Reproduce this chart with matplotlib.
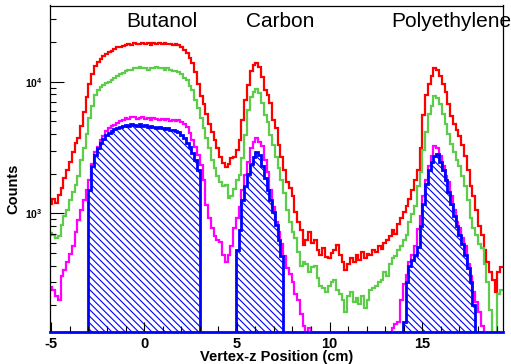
import numpy as np
import matplotlib
matplotlib.use('Agg')
import matplotlib.pyplot as plt
from matplotlib.ticker import FixedLocator, MultipleLocator, LogLocator, NullFormatter

plt.rcParams['font.family'] = ['Liberation Sans', 'DejaVu Sans']
plt.rcParams['mathtext.fontset'] = 'custom'
plt.rcParams['mathtext.rm'] = 'Liberation Sans'
plt.rcParams['mathtext.bf'] = 'Liberation Sans:bold'
plt.rcParams['hatch.linewidth'] = 0.8

# Histogram binning
bin_lo = -5.1
bin_width = 0.15
n_bins = 163

red = [1180, 1290, 1200, 1380, 1560, 1860, 2140, 2450, 2930, 3420,
       3750, 4600, 5900, 7650, 9600, 11450, 13100, 14100, 14900, 15700,
       16300, 16900, 17200, 17800, 18200, 18500, 18800, 19000, 19400, 19100,
       19700, 19500, 19300, 19700, 19300, 19700, 19100, 19600, 19400, 19800,
       19400, 19600, 19200, 19300, 19000, 19200, 18900, 18500, 17400, 16400,
       15200, 13900, 11900, 9600, 7800, 6800, 5700, 4800, 4150, 3600,
       3150, 2680, 2420, 2250, 2380, 2650, 2680, 3030, 3610, 5120,
       7260, 9450, 12000, 13400, 13900, 13000, 10900, 8650, 7930, 6900,
       5120, 4450, 3300, 2680, 2140, 1720, 1560, 1360, 1020, 860,
       750, 580, 630, 720, 600, 630, 530, 480, 550, 470,
       460, 500, 530, 580, 485, 430, 370, 410, 460, 430,
       480, 443, 510, 460, 490, 485, 530, 510, 565, 540,
       600, 630, 675, 750, 700, 830, 920, 1020, 1140, 1290,
       1510, 1790, 2140, 3150, 5600, 7900, 9600, 11000, 12700, 12300,
       11000, 9600, 8300, 6800, 5500, 4800, 4300, 3900, 3300, 2730,
       2140, 1620, 1360, 1060, 800, 680, 530, 430, 360, 310,
       255, 360, 390]

green = [715, 690, 650, 670, 810, 950, 1060, 1265, 1450, 1640,
         1920, 2540, 3150, 4000, 5300, 6550, 7950, 8650, 9100, 9450,
         9800, 10000, 10300, 10700, 11000, 11450, 11700, 12100, 12300, 12300,
         12800, 12600, 13000, 12800, 12800, 12300, 12800, 12600, 13000, 12600,
         12800, 12300, 12600, 12300, 12100, 12100, 11900, 11450, 10700, 10300,
         9300, 8650, 7260, 6350, 5300, 4450, 3750, 3150, 2540, 2220,
         1920, 1720, 1610, 1640, 1310, 1360, 1540, 1790, 1960, 2620,
         3940, 6100, 7650, 8350, 8800, 8200, 6900, 5590, 4950, 3940,
         3310, 2680, 2220, 1790, 1420, 1060, 860, 720, 650, 510,
         400, 430, 410, 360, 390, 400, 325, 280, 270, 255,
         280, 300, 312, 262, 245, 220, 178, 236, 255, 212,
         228, 206, 236, 192, 220, 262, 270, 280, 300, 312,
         360, 336, 410, 460, 475, 528, 570, 628, 680, 860,
         990, 1140, 1610, 2060, 3030, 4150, 5700, 6550, 7800, 7550,
         6800, 5700, 4800, 4000, 3370, 2930, 2540, 2280, 1920, 1610,
         1265, 920, 780, 680, 590, 550, 410, 300, 185, 115,
         115, 245, 262]

magenta = [275, 262, 236, 220, 336, 372, 430, 490, 570, 720,
           892, 1060, 1265, 1510, 1790, 2370, 2930, 3200, 3610, 3870,
           4230, 4450, 4600, 4690, 4860, 5030, 5120, 5300, 5200, 5400,
           5400, 5200, 5300, 5400, 5200, 5300, 5120, 5300, 5200, 5120,
           5200, 5120, 5200, 5030, 5120, 5030, 5120, 4950, 4780, 4530,
           4080, 3610, 3200, 2780, 2330, 1790, 1160, 920, 780, 670,
           628, 605, 484, 430, 484, 570, 780, 920, 1120, 1510,
           1960, 2450, 3150, 3500, 3750, 3500, 3250, 2540, 2060, 1510,
           1120, 860, 720, 590, 475, 385, 348, 300, 245, 220,
           172, 140, 100, 135, 100, 100, 100, 100, 100, 100,
           100, 100, 100, 100, 100, 100, 100, 100, 100, 100,
           100, 100, 100, 100, 100, 100, 100, 100, 100, 100,
           100, 100, 100, 135, 145, 150, 220, 290, 341, 430,
           480, 570, 760, 950, 1360, 1790, 2280, 2730, 3250, 3150,
           2730, 2280, 1920, 1720, 1360, 1060, 860, 780, 650, 570,
           410, 336, 255, 212, 178, 140, 100, 100, 100, 100,
           100, 100, 100]

# Blue (selected events) histogram, non-zero only inside the target cuts
cut_starts = [-3.0, 4.95, 13.95]
blue_butanol = [1500, 2300, 2800, 3150, 3420, 3680, 3940, 4080, 4230, 4380,
                4450, 4530, 4610, 4690, 4610, 4780, 4690, 4610, 4780, 4610,
                4690, 4530, 4610, 4530, 4450, 4530, 4450, 4380, 4450, 4300,
                4300, 4230, 4150, 3940, 3750, 3420, 3200, 2880, 2540, 2140]
blue_carbon = [528, 748, 1265, 1610, 2000, 2380, 2680, 2930, 2780, 2280,
               1860, 1510, 1265, 1020, 817, 628, 475]
blue_poly = [150, 300, 400, 440, 480, 560, 800, 1180, 1670, 2140,
             2450, 2730, 2830, 2450, 2140, 1790, 1450, 1180, 950, 800,
             680, 590, 484, 385, 300, 202]

target_labels = ['Butanol', 'Carbon', 'Polyethylene']
x_ticks = [-5, 0, 5, 10, 15]

edges = bin_lo + bin_width * np.arange(n_bins + 1)
blue = np.zeros(n_bins)
for start, vals in zip(cut_starts, [blue_butanol, blue_carbon, blue_poly]):
    i0 = int(round((start - bin_lo) / bin_width))
    blue[i0:i0 + len(vals)] = vals

W, H = 511, 364
fig = plt.figure(figsize=(W / 100, H / 100), dpi=100)
ax = fig.add_axes([49.5 / W, 1 - 331.7 / H, (503 - 49.5) / W, (331.7 - 5.5) / H])
ax.set_yscale('log', nonpositive='clip')

ax.stairs(red, edges, color='#ff0000', lw=1.6, baseline=None)
ax.stairs(green, edges, color='#5ccc4a', lw=1.6, baseline=None)
ax.stairs(magenta, edges, color='#ff00ff', lw=1.6, baseline=None)
ax.stairs(blue, edges, fill=True, baseline=0, facecolor='none',
          edgecolor='#0000ff', hatch='\\' * 5, lw=0)
ax.stairs(blue, edges, color='#0000ff', lw=2.0, baseline=None)

ax.set_xlim(-5.1, 19.35)
ax.set_ylim(126.4, 37900)

ax.xaxis.set_major_locator(FixedLocator(x_ticks))
ax.xaxis.set_minor_locator(MultipleLocator(1))
ax.set_xticklabels([str(t) for t in x_ticks], fontsize=10.5, fontweight='bold')
ax.yaxis.set_major_locator(FixedLocator([1e3, 1e4]))
ax.yaxis.set_minor_locator(LogLocator(base=10, subs=np.arange(2, 10)))
ax.yaxis.set_minor_formatter(NullFormatter())
ax.set_yticklabels([r'$\mathbf{10^{3}}$', r'$\mathbf{10^{4}}$'], fontsize=7.5)

ax.tick_params(which='both', direction='in', top=False, right=False, width=0.8)
ax.tick_params(axis='x', which='major', length=7, pad=4)
ax.tick_params(axis='x', which='minor', length=4)
ax.tick_params(axis='y', which='major', length=10, pad=5)
ax.tick_params(axis='y', which='minor', length=4)
for s in ax.spines.values():
    s.set_linewidth(0.9)
# the empty blue histogram runs along the bottom of the frame
ax.spines['bottom'].set_color('#0000ff')
ax.spines['bottom'].set_linewidth(2.0)
ax.spines['bottom'].set_zorder(3)

label_x = [162, 280, 451]
for lab, px in zip(target_labels, label_x):
    fig.text(px / W, 1 - 27 / H, lab, ha='center', va='baseline', fontsize=15)

fig.text(277 / W, 1 - 361 / H, 'Vertex-z Position (cm)', ha='center', va='baseline',
         fontsize=10.5, fontweight='bold')
fig.text(13 / W, 1 - 189 / H, 'Counts', rotation=90, ha='center', va='center',
         fontsize=10.5, fontweight='bold')

fig.savefig('out.png', dpi=100)
